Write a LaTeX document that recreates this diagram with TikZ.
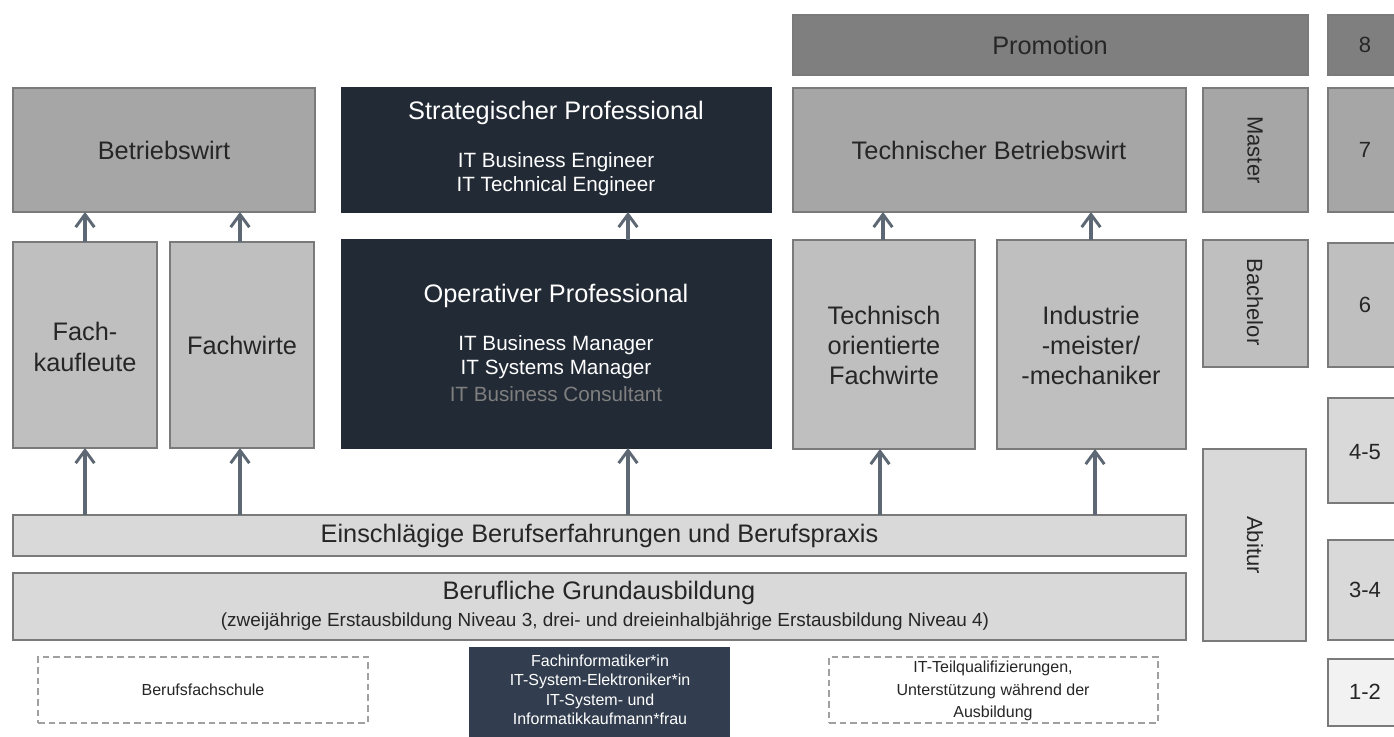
\documentclass[tikz,border=0pt]{standalone}
\usepackage{fontspec}
\setmainfont{Liberation Sans}
\usetikzlibrary{arrows.meta,fit}

\definecolor{cPromo}{HTML}{7F7F7F}
\definecolor{cMid}{HTML}{A6A6A6}
\definecolor{cLight}{HTML}{BFBFBF}
\definecolor{cPale}{HTML}{D9D9D9}
\definecolor{cFaint}{HTML}{F2F2F2}
\definecolor{cNavy}{HTML}{222A35}
\definecolor{cNavyB}{HTML}{323E4F}
\definecolor{cEdge}{HTML}{7A7A7A}
\definecolor{cArrow}{HTML}{5D6874}
\definecolor{cDash}{HTML}{A0A0A0}
\definecolor{cText}{HTML}{262626}
\definecolor{cDim}{HTML}{7F7F7F}

\begin{document}
\begin{tikzpicture}[
  x=0.75pt, y=-0.75pt,
  box/.style={draw=cEdge, line width=0.9pt, inner sep=0pt, outer sep=0pt},
  darkbox/.style={box, fill=cNavy, draw=cNavy},
  dashbox/.style={draw=cDash, line width=1.5pt, dash pattern=on 5pt off 3pt, inner sep=0pt, outer sep=0pt},
  head/.style={font=\fontsize{19}{22.5}\selectfont, text=cText, align=center, inner sep=0pt},
  sub/.style={font=\fontsize{15.5}{18}\selectfont, text=white, align=center, inner sep=0pt},
  small/.style={font=\fontsize{12}{14.6}\selectfont, text=cText, align=center, inner sep=0pt},
  num/.style={font=\fontsize{16.5}{19}\selectfont, text=cText, inner sep=0pt},
  vert/.style={font=\fontsize{16.5}{19}\selectfont, text=cText, rotate=-90, inner sep=0pt},
  arr/.style={draw=cArrow, line width=2.3pt, -{Straight Barb[length=9.5pt, width=14pt, line width=2.2pt]}},
]
\useasboundingbox (0,0) rectangle (1394,737);
\clip (0,0) rectangle (1394,737);
\fill[white] (0,0) rectangle (1394,737);

% ---- boxes ----
\node[box, fill=cPromo, fit={(793,15) (1308,75)}] (promo) {};
\node[box, fill=cPromo, fit={(1328,15) (1402,75)}] (n8) {};

\node[box, fill=cMid, fit={(13,88) (315,212)}] (bw) {};
\node[darkbox, fit={(342,88) (771,212)}] (strat) {};
\node[box, fill=cMid, fit={(793,88) (1186,212)}] (tbw) {};
\node[box, fill=cMid, fit={(1203,88) (1308,212)}] (master) {};
\node[box, fill=cMid, fit={(1328,88) (1402,212)}] (n7) {};

\node[box, fill=cLight, fit={(13,242) (157,448)}] (fk) {};
\node[box, fill=cLight, fit={(170,242) (314,448)}] (fw) {};
\node[darkbox, fit={(342,240) (771,448)}] (op) {};
\node[box, fill=cLight, fit={(793,240) (975,449)}] (tof) {};
\node[box, fill=cLight, fit={(997,240) (1186,449)}] (im) {};
\node[box, fill=cLight, fit={(1203,240) (1308,367)}] (bach) {};
\node[box, fill=cLight, fit={(1328,243) (1402,367)}] (n6) {};

\node[box, fill=cPale, fit={(1328,398) (1402,503)}] (n45) {};
\node[box, fill=cPale, fit={(1203,449) (1306,641)}] (abi) {};
\node[box, fill=cPale, fit={(13,515) (1186,556)}] (ein) {};
\node[box, fill=cPale, fit={(13,573) (1186,640)}] (beruf) {};
\node[box, fill=cPale, fit={(1328,540) (1402,640)}] (n34) {};
\node[box, fill=cFaint, fit={(1328,659) (1402,726)}] (n12) {};

\node[dashbox, fit={(38,657) (368,723)}] (bfs) {};
\node[box, fill=cNavyB, draw=cNavyB, fit={(470,648) (729,745)}] (fi) {};
\node[dashbox, fit={(829,657) (1158,723)}] (itq) {};

% ---- texts ----
\node[head] (tPromo) at (1050,45) {Promotion};
\node[num] (t8) at (1365,45) {8};
\node[head] (tBw) at (bw.center) {Betriebswirt};
\node[head, text=white] (tStrat) at (556,113) {Strategischer Professional};
\node[sub] (tStratSub) at (556,174) {IT Business Engineer\\IT Technical Engineer};
\node[head] (tTbw) at (989,150) {Technischer Betriebswirt};
\node[vert] (tMaster) at (1255,150) {Master};
\node[num] (t7) at (1365,150) {7};

\node[head, font=\fontsize{19}{23}\selectfont] (tFk) at (85,347) {Fach-\\kaufleute};
\node[head] (tFw) at (242,345) {Fachwirte};
\node[head, text=white] (tOp) at (556,296) {Operativer Professional};
\node[sub] (tOpSub) at (556,357.5) {IT Business Manager\\IT Systems Manager};
\node[sub, text=cDim] (tOpCon) at (556,394) {IT Business Consultant};
\node[head, font=\fontsize{19}{22.5}\selectfont] (tTof) at (884,345) {Technisch\\orientierte\\Fachwirte};
\node[head, font=\fontsize{19}{22.5}\selectfont] (tIm) at (1091,345) {Industrie\\-meister/\\-mechaniker};
\node[vert] (tBach) at (1255,302) {Bachelor};
\node[num] (t6) at (1365,305) {6};

\node[num] (t45) at (1365,452) {4-5};
\node[vert] (tAbi) at (1255,545) {Abitur};
\node[num] (t34) at (1365,590) {3-4};
\node[num] (t12) at (1365,692) {1-2};

\node[head] (tEin) at (ein.center) {Einschlägige Berufserfahrungen und Berufspraxis};
\node[head] (tBeruf) at (599,593) {Berufliche Grundausbildung};
\node[head, font=\fontsize{14.2}{17}\selectfont] (tBerufSub) at (605,622) {(zweijährige Erstausbildung Niveau 3, drei- und dreieinhalbjährige Erstausbildung Niveau 4)};

\node[small] (tBfs) at (bfs.center) {Berufsfachschule};
\node[small, text=white] (tFi) at (600,690) {Fachinformatiker*in\\IT-System-Elektroniker*in\\IT-System- und\\Informatikkaufmann*frau};
\node[small, font=\fontsize{12}{16.8}\selectfont] (tItq) at (993,691) {IT-Teilqualifizierungen,\\Unterstützung während der\\Ausbildung};

% ---- arrow positions off the box centres ----
\coordinate (xFk) at (85,0);
\coordinate (xFw) at (240,0);
\coordinate (xOp) at (628,0);
\coordinate (xTofLo) at (880,0);
\coordinate (xTofUp) at (883,0);
\coordinate (xImLo) at (1095,0);
\coordinate (xImUp) at (1091,0);

% ---- connectors: experience -> qualification ----
\draw[arr] (ein.north -| xFk) -- (fk.south -| xFk);
\draw[arr] (ein.north -| xFw) -- (fw.south -| xFw);
\draw[arr] (ein.north -| xOp) -- (op.south -| xOp);
\draw[arr] (ein.north -| xTofLo) -- (tof.south -| xTofLo);
\draw[arr] (ein.north -| xImLo) -- (im.south -| xImLo);

% ---- connectors: qualification -> higher level ----
\draw[arr] (fk.north -| xFk) -- (bw.south -| xFk);
\draw[arr] (fw.north -| xFw) -- (bw.south -| xFw);
\draw[arr] (op.north -| xOp) -- (strat.south -| xOp);
\draw[arr] (tof.north -| xTofUp) -- (tbw.south -| xTofUp);
\draw[arr] (im.north -| xImUp) -- (tbw.south -| xImUp);
\end{tikzpicture}
\end{document}
